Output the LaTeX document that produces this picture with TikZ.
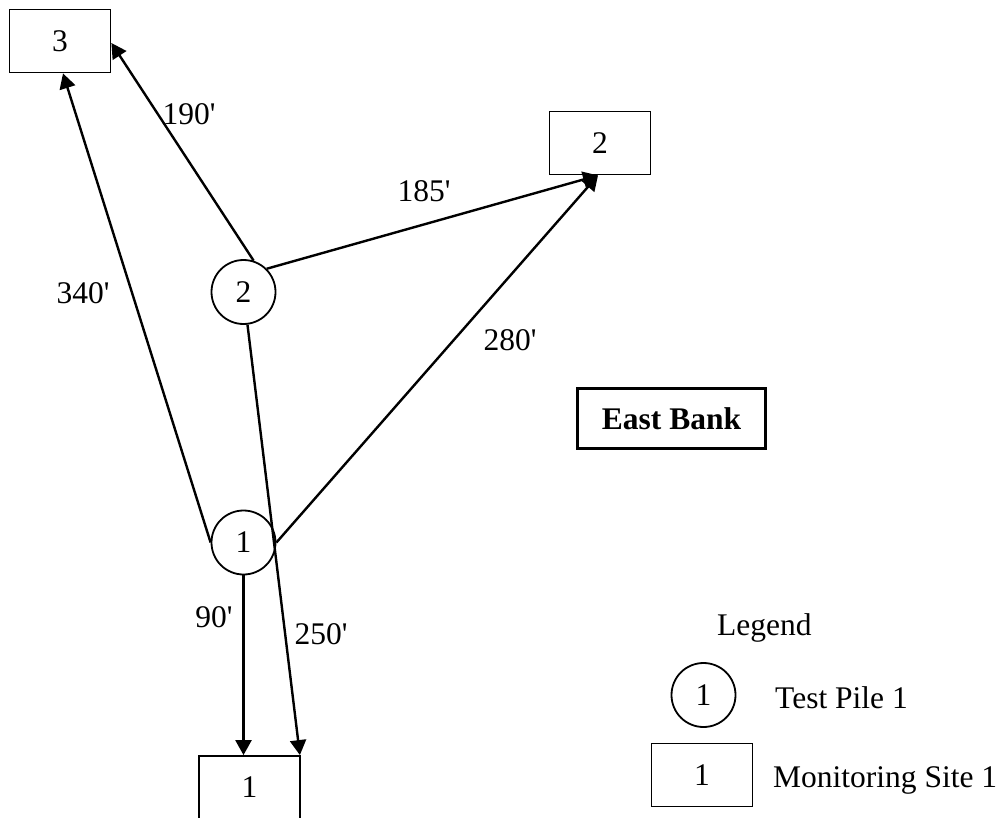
\documentclass[tikz,border=0pt]{standalone}
\usepackage{fontspec}
\setmainfont{Liberation Serif}
\usetikzlibrary{arrows.meta,positioning}

\begin{document}
\begin{tikzpicture}[x=1pt,y=-1pt,
	  font=\fontsize{31.5}{38}\selectfont,
	  site/.style={draw,line width=1.8pt,minimum width=101pt,minimum height=63pt,inner sep=0pt},
	  pile/.style={draw,circle,line width=1.8pt,minimum size=64pt,inner sep=0pt},
	  bank/.style={draw,line width=3.5pt,minimum width=188pt,minimum height=60pt,font=\fontsize{31.5}{38}\selectfont\bfseries},
	  dist/.style={inner sep=0pt},
	  link/.style={line width=2.4pt,-{Triangle[length=15pt,width=16pt]}}]
	  \useasboundingbox (0,0) rectangle (1003,818);
	  \node[site] (site3) at (60,41) {3};
	  \node[site] (site2) at (600,143) {2};
	  \node[site] (site1) at (249.5,787.5) {1};
	  \node[pile] (pile2) at (243.5,292) {2};
	  \node[pile] (pile1) at (243.5,542.5) {1};
	  \node[bank] (east) at (671.5,418.5) {East Bank};
	  \draw[link] (pile1.west) -- ([xshift=3pt]site3.south);
	  \draw[link] (pile2.72) -- ([yshift=-2pt]site3.east);
	  \draw[link] (pile2.north east) -- ([xshift=-2pt]site2.south);
	  \draw[link] (pile1.east) -- ([xshift=-2pt]site2.south);
	  \draw[link] (pile1.south) -- (pile1.south |- site1.north);
	  \draw[link] (pile2) -- ([xshift=-1pt]site1.north east);
	  \node[dist] (d340) at (83,293) {340\textquotesingle};
	  \node[dist] (d190) at (189,114) {190\textquotesingle};
	  \node[dist] (d185) at (424,191) {185\textquotesingle};
	  \node[dist] (d280) at (510,340) {280\textquotesingle};
	  \node[dist] (d90) at (214,617) {90\textquotesingle};
	  \node[dist] (d250) at (321,634) {250\textquotesingle};
	  \node[anchor=base west,inner sep=0pt] (legend) at (717,635) {Legend};
	  \node[pile] (keypile) at (703.5,695) {1};
	  \node[site] (keysite) at (702,775) {1};
	  \node[anchor=base west,inner sep=0pt] (keypiletext) at (775,708) {Test Pile 1};
	  \node[anchor=base west,inner sep=0pt] (keysitetext) at (773,787) {Monitoring Site 1};
\end{tikzpicture}
\end{document}
